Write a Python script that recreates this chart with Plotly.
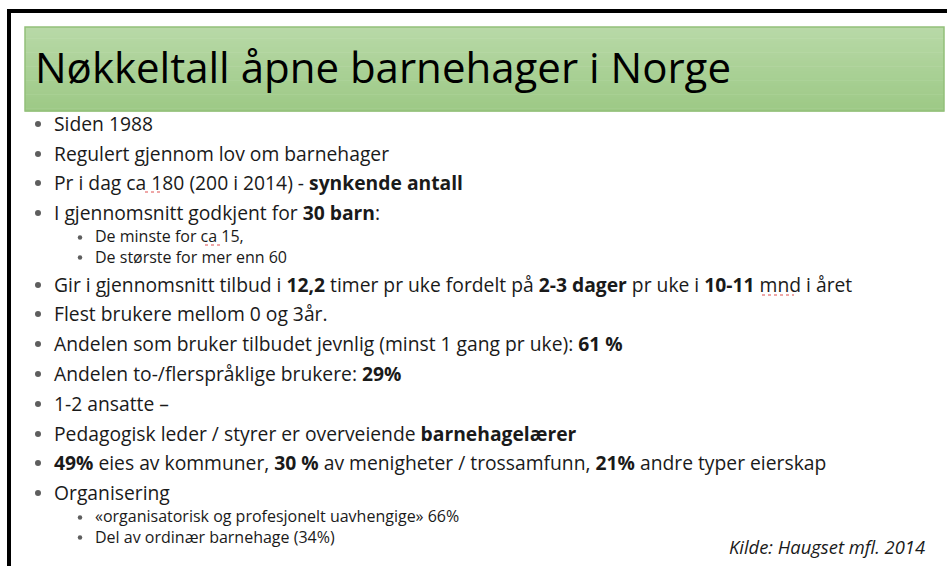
import plotly.graph_objects as go

W, H = 947, 566

title_text = "Nøkkeltall åpne barnehager i Norge"

bullet_levels = [0, 0, 0, 0, 1, 1, 0, 0, 0, 0, 0, 0, 0, 0, 1, 1]
bullet_texts = [
    "Siden 1988",
    "Regulert gjennom lov om barnehager",
    "Pr i dag ca 180 (200 i 2014) - <b>synkende antall</b>",
    "I gjennomsnitt godkjent for <b>30 barn</b>:",
    "De minste for ca 15,",
    "De største for mer enn 60",
    "Gir i gjennomsnitt tilbud i <b>12,2</b> timer pr uke fordelt på <b>2-3 dager</b> pr uke i <b>10-11</b> mnd i året",
    "Flest brukere mellom 0 og 3år.",
    "Andelen som bruker tilbudet jevnlig (minst 1 gang pr uke): <b>61 %</b>",
    "Andelen to-/flerspråklige brukere: <b>29%</b>",
    "1-2 ansatte –",
    "Pedagogisk leder / styrer er overveiende <b>barnehagelærer</b>",
    "<b>49%</b> eies av kommuner, <b>30 %</b> av menigheter / trossamfunn, <b>21%</b> andre typer eierskap",
    "Organisering",
    "«organisatorisk og profesjonelt uavhengige» 66%",
    "Del av ordinær barnehage (34%)",
]
bullet_y = [123, 153, 182, 212, 236.5, 256.5, 284, 313, 343, 373, 403, 433, 462, 492, 516.5, 536.5]
source_text = "<i>Kilde: Haugset mfl. 2014</i>"

# spell-check underlines (x start, x end, y)
squiggle_x0 = [145, 205, 762]
squiggle_x1 = [163, 222, 794]
squiggle_y = [192, 245, 295]

LEVEL_STYLE = {
    0: dict(bullet_x=38, text_x=53, font=19.3, dot=6),
    1: dict(bullet_x=80, text_x=94, font=16.0, dot=4.5),
}

fig = go.Figure()

# bullets as markers
fig.add_trace(go.Scatter(
    x=[LEVEL_STYLE[l]["bullet_x"] for l in bullet_levels],
    y=[yy + 1 for yy in bullet_y],
    mode="markers",
    marker=dict(size=[LEVEL_STYLE[l]["dot"] for l in bullet_levels], color="#1a1a1a", line=dict(width=0)),
    hoverinfo="skip", showlegend=False,
))

shapes = []
# green title band with vertical gradient
top_rgb = (184, 217, 167)
bot_rgb = (157, 201, 134)
x0b, x1b, y0b, y1b = 25, 944, 27, 111
n = 30
for i in range(n):
    t = i / (n - 1)
    c = tuple(round(a + (b - a) * t) for a, b in zip(top_rgb, bot_rgb))
    ya = y0b + (y1b - y0b) * i / n
    yb = y0b + (y1b - y0b) * (i + 1) / n
    shapes.append(dict(type="rect", xref="x", yref="y", x0=x0b, x1=x1b, y0=ya, y1=yb + 0.5,
                       fillcolor="rgb(%d,%d,%d)" % c, line=dict(width=0), layer="below"))
shapes.append(dict(type="rect", xref="x", yref="y", x0=x0b, x1=x1b, y0=y0b, y1=y1b,
                   fillcolor="rgba(0,0,0,0)", line=dict(color="#93c07a", width=1.5)))
# slide frame
shapes.append(dict(type="line", xref="x", yref="y", x0=7, x1=W, y0=11, y1=11,
                   line=dict(color="black", width=4)))
shapes.append(dict(type="line", xref="x", yref="y", x0=9, x1=9, y0=9, y1=H,
                   line=dict(color="black", width=4)))
for a, b, yy in zip(squiggle_x0, squiggle_x1, squiggle_y):
    shapes.append(dict(type="line", xref="x", yref="y", x0=a, x1=b, y0=yy, y1=yy,
                       line=dict(color="#e05050", width=1.2, dash="dot")))

annotations = []
annotations.append(dict(x=33, y=66, xref="x", yref="y", text=title_text, showarrow=False,
                        xanchor="left", yanchor="middle",
                        font=dict(family="Open Sans", size=42, color="black")))

# group consecutive items of the same level (sub-items share one text block)
groups = []
for lvl, txt, yy in zip(bullet_levels, bullet_texts, bullet_y):
    if lvl == 1 and groups and groups[-1][0] == 1:
        groups[-1][1].append(txt)
        groups[-1][2].append(yy)
    else:
        groups.append((lvl, [txt], [yy]))

for lvl, txts, ys in groups:
    st = LEVEL_STYLE[lvl]
    annotations.append(dict(x=st["text_x"], y=sum(ys) / len(ys), xref="x", yref="y",
                            text="<br>".join(txts), showarrow=False, align="left",
                            xanchor="left", yanchor="middle", borderpad=0,
                            font=dict(family="Open Sans", size=st["font"], color="#1a1a1a")))

annotations.append(dict(x=927, y=546, xref="x", yref="y", text=source_text, showarrow=False,
                        xanchor="right", yanchor="middle",
                        font=dict(family="Open Sans", size=18.4, color="#1a1a1a")))

fig.update_layout(
    width=W, height=H,
    margin=dict(l=0, r=0, t=0, b=0),
    paper_bgcolor="white", plot_bgcolor="white",
    xaxis=dict(range=[0, W], visible=False, fixedrange=True),
    yaxis=dict(range=[H, 0], visible=False, fixedrange=True),
    shapes=shapes, annotations=annotations, showlegend=False,
)
fig.write_html("out.html", config={"displayModeBar": False},
               post_script="document.body.style.margin='0';document.body.style.overflow='hidden';")
